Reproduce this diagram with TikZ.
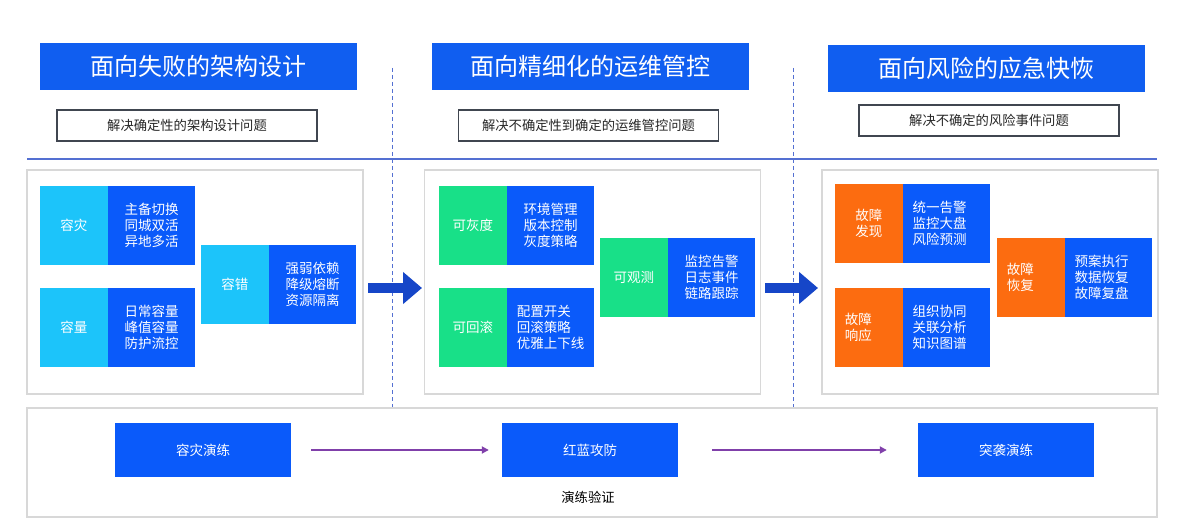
\documentclass[tikz,border=0pt]{standalone}
\usepackage{fontspec}
\newfontfamily\cjk{Noto Sans CJK SC}
\usetikzlibrary{arrows.meta}
\definecolor{tblue}{RGB}{16,94,240}
\definecolor{dblue}{RGB}{10,90,250}
\definecolor{cyanb}{RGB}{28,196,250}
\definecolor{greenb}{RGB}{24,224,136}
\definecolor{orangeb}{RGB}{252,108,16}
\definecolor{arrblue}{RGB}{22,70,200}
\definecolor{purp}{RGB}{128,64,170}
\definecolor{lineblue}{RGB}{84,112,210}
\definecolor{panelgray}{RGB}{216,216,216}
\definecolor{subborder}{RGB}{64,70,80}
\newcommand\mkpair[8][]{%
  \node[lab, fill=#5, anchor=west, #1] (#2l) at (#3,#4) {#6};
  \node[cont, anchor=west, #8] (#2c) at (#2l.east) {#7};
}
\begin{document}
\begin{tikzpicture}[x=1pt,y=-1pt,
  box/.style={rectangle, inner sep=0pt, font=\cjk\fontsize{13.5}{16}\selectfont, text=white, align=center},
  titlebox/.style={box, fill=tblue, minimum width=317pt, minimum height=47pt, font=\cjk\fontsize{24}{28}\selectfont},
  subbox/.style={rectangle, draw=subborder, line width=1.2pt, fill=white, minimum width=260pt, minimum height=31pt, inner sep=0pt, font=\cjk\fontsize{13.3}{16}\selectfont, text=black!85},
  panel/.style={rectangle, draw=panelgray, line width=1.3pt, fill=white, minimum width=336pt, minimum height=224pt, inner sep=0pt},
  lab/.style={box, minimum width=67.5pt, minimum height=79pt},
  cont/.style={box, fill=dblue, minimum width=87pt, minimum height=79pt, align=left},
  btn/.style={box, fill=dblue, minimum width=176pt, minimum height=54pt},
  dashline/.style={lineblue, line width=1pt, dash pattern=on 4pt off 3pt},
  bigarr/.style={arrblue, line width=10.5pt, -{Triangle[length=19pt,width=31pt]}},
  parr/.style={purp, line width=1.8pt, -{Triangle[length=7pt,width=7pt]}}
]
\useasboundingbox[fill=white] (0,0) rectangle (1195,532);

% dashed separators
\coordinate (d1a) at (392,68); \coordinate (d1b) at (392,408);
\coordinate (d2a) at (793,68); \coordinate (d2b) at (793,408);
\draw[dashline] (d1a) -- (d1b);
\draw[dashline] (d2a) -- (d2b);

% titles
\node[titlebox] (t1) at (198.5,66.5) {面向失败的架构设计};
\node[titlebox] (t2) at (590,66.5) {面向精细化的运维管控};
\node[titlebox] (t3) at (986.5,68.5) {面向风险的应急快恢};

\node[subbox] (s1) at (187,125.5) {解决确定性的架构设计问题};
\node[subbox] (s2) at (588.5,125.5) {解决不确定性到确定的运维管控问题};
\node[subbox] (s3) at (989,120.5) {解决不确定的风险事件问题};

% horizontal rule
\coordinate (h1) at (27,159); \coordinate (h2) at (1157,159);
\draw[lineblue, line width=1.4pt] (h1) -- (h2);

% panels
\node[panel] (p1) at (195,282) {};
\node[panel] (p2) at (592.5,282) {};
\node[panel] (p3) at (990,282) {};

% panel 1
\mkpair{a}{40}{225.5}{cyanb}{容灾}{主备切换\\同城双活\\异地多活}{}
\mkpair{b}{40}{327.5}{cyanb}{容量}{日常容量\\峰值容量\\防护流控}{}
\mkpair{c}{201}{284.5}{cyanb}{容错}{强弱依赖\\降级熔断\\资源隔离}{}

% panel 2
\mkpair{d}{439}{225.5}{greenb}{可灰度}{环境管理\\版本控制\\灰度策略}{}
\mkpair{e}{439}{327.5}{greenb}{可回滚}{配置开关\\回滚策略\\优雅上下线}{}
\mkpair{f}{600}{277}{greenb}{可观测}{监控告警\\日志事件\\链路跟踪}{}

% panel 3
\mkpair{g}{835}{223.5}{orangeb}{故障\\发现}{统一告警\\监控大盘\\风险预测}{text width=68pt}
\mkpair[text width=48pt, align=left]{h}{835}{327.5}{orangeb}{故障\\响应}{组织协同\\关联分析\\知识图谱}{text width=68pt}
\mkpair[text width=48pt, align=left]{i}{997}{277.5}{orangeb}{故障\\恢复}{预案执行\\数据恢复\\故障复盘}{text width=68pt}

% big arrows
\coordinate (A1s) at (368,288); \coordinate (A1e) at (422,288);
\coordinate (A2s) at (765,288); \coordinate (A2e) at (818,288);
\draw[bigarr] (A1s) -- (A1e);
\draw[bigarr] (A2s) -- (A2e);

% bottom panel
\node[rectangle, draw=panelgray, line width=1.3pt, fill=white, minimum width=1130pt, minimum height=109pt, inner sep=0pt] (pb) at (592,462.5) {};
\node[btn] (b1) at (203,450) {容灾演练};
\node[btn] (b2) at (590,450) {红蓝攻防};
\node[btn] (b3) at (1006,450) {突袭演练};
\draw[parr, shorten <=20pt, shorten >=13pt] (b1) -- (b2);
\draw[parr, shorten <=34pt, shorten >=31pt] (b2) -- (b3);
\node[font=\cjk\fontsize{13.3}{16}\selectfont, text=black] (lbl) at (588,497) {演练验证};
\end{tikzpicture}
\end{document}
